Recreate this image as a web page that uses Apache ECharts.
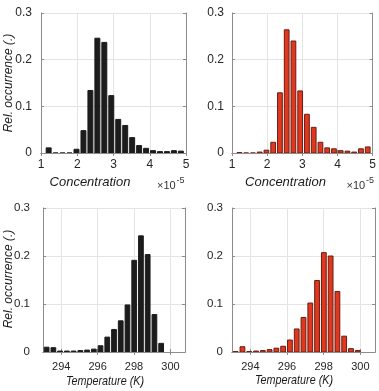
<!DOCTYPE html>
<html>
<head>
<meta charset="utf-8">
<script src="https://cdn.jsdelivr.net/npm/echarts@6/dist/echarts.min.js"></script>
<style>
  html, body { margin: 0; padding: 0; background: #ffffff; }
  #chart { width: 379px; height: 391px; }
</style>
</head>
<body>
<div id="chart"></div>
<script>
// Concentration histograms (values in units of 1e-5), 20 equal bins
const concBinStart = 1.115;
const concBinWidth = 0.192;
const concTicks = [1, 2, 3, 4, 5];
const concBlack = [0.011, 0, 0, 0, 0.008, 0.048, 0.134, 0.246, 0.237, 0.123,
                   0.072, 0.059, 0.033, 0.016, 0.010, 0.005, 0.003, 0.003, 0.005, 0.004];
const concRed   = [0.001, 0, 0, 0.002, 0.006, 0.023, 0.129, 0.264, 0.240, 0.133,
                   0.083, 0.055, 0.023, 0.011, 0.009, 0.005, 0.004, 0.002, 0.009, 0.013];

// Temperature histograms (K)
const tempBinStart = 293.015;
const tempBinWidth = 0.37;
const tempTicks = [294, 296, 298, 300];
const tempBlack = [0.010, 0.009, 0.002, 0.002, 0.002, 0.003, 0.004, 0.006, 0.013,
                   0.031, 0.047, 0.065, 0.098, 0.191, 0.242, 0.203, 0.078, 0.018];
const tempRed   = [0.001, 0.011, 0.001, 0.002, 0.003, 0.005, 0.008, 0.012, 0.025,
                   0.048, 0.072, 0.102, 0.149, 0.207, 0.200, 0.126, 0.033, 0.007, 0.003];

// Relative occurrence axis
const yTicks = [0, 0.1, 0.2, 0.3];

const FRAME = '#8c8c8c';
const GRIDLINE = '#e4e4e4';
const LABEL = '#262626';

const styles = {
  black: { fill: '#1c1c1c', stroke: '#1c1c1c' },
  red:   { fill: '#e0381f', stroke: '#6a1c12' }
};

function binData(start, width, values) {
  return values.map((v, i) => [start + i * width, start + (i + 1) * width, v]);
}

const panels = [
  { grid: { left: 41, top: 13, width: 145, height: 140 },
    xmin: 1, xmax: 5, ticks: concTicks, fs: 12, xMargin: 6, yMargin: 9,
    data: binData(concBinStart, concBinWidth, concBlack), color: 'black' },
  { grid: { left: 232, top: 13, width: 142, height: 140 },
    xmin: 1, xmax: 5, ticks: concTicks, fs: 12, xMargin: 6, yMargin: 8,
    data: binData(concBinStart, concBinWidth, concRed), color: 'red' },
  { grid: { left: 43, top: 208, width: 142, height: 144 },
    xmin: 293, xmax: 300.8, ticks: tempTicks, fs: 11, xMargin: 9, yMargin: 13,
    data: binData(tempBinStart, tempBinWidth, tempBlack), color: 'black' },
  { grid: { left: 232, top: 208, width: 143, height: 144 },
    xmin: 293, xmax: 300.8, ticks: tempTicks, fs: 11, xMargin: 9, yMargin: 9,
    data: binData(tempBinStart, tempBinWidth, tempRed), color: 'red' }
];

const grids = [], xAxes = [], yAxes = [], series = [];

panels.forEach((p, i) => {
  grids.push(Object.assign({ containLabel: false }, p.grid));
  const tickStyle = { show: true, inside: true, length: 3, lineStyle: { color: FRAME } };
  const lineStyle = { show: true, lineStyle: { color: FRAME, width: 1 } };
  const xBase = {
    gridIndex: i, type: 'value', min: p.xmin, max: p.xmax,
    axisLine: lineStyle, axisTick: Object.assign({ customValues: p.ticks }, tickStyle)
  };
  xAxes.push(Object.assign({}, xBase, {
    position: 'bottom',
    axisLabel: { customValues: p.ticks, color: LABEL, fontSize: p.fs,
                 fontFamily: 'Liberation Sans', margin: p.xMargin },
    splitLine: { show: true, lineStyle: { color: GRIDLINE, width: 1 } }
  }));
  xAxes.push(Object.assign({}, xBase, {
    position: 'top', axisLabel: { show: false }, splitLine: { show: false }
  }));
  const yBase = {
    gridIndex: i, type: 'value', min: yTicks[0], max: yTicks[yTicks.length - 1],
    interval: 0.1, axisLine: lineStyle, axisTick: tickStyle
  };
  yAxes.push(Object.assign({}, yBase, {
    position: 'left',
    axisLabel: { color: LABEL, fontSize: p.fs + (i >= 2 ? 0.5 : 0),
                 fontFamily: 'Liberation Sans', margin: p.yMargin,
                 formatter: v => (v === 0 ? '0' : v.toFixed(1)) },
    splitLine: { show: true, lineStyle: { color: GRIDLINE, width: 1 } }
  }));
  yAxes.push(Object.assign({}, yBase, {
    position: 'right', axisLabel: { show: false }, splitLine: { show: false }
  }));

  const st = styles[p.color];
  series.push({
    type: 'custom',
    xAxisIndex: i * 2, yAxisIndex: i * 2,
    clip: true,
    data: p.data,
    renderItem: (params, api) => {
      const top = api.coord([api.value(0), api.value(2)]);
      const base = api.coord([api.value(1), 0]);
      return {
        type: 'rect',
        shape: { x: top[0] + 1, y: top[1], width: base[0] - top[0] - 2, height: base[1] - top[1] },
        style: { fill: st.fill, stroke: st.stroke, lineWidth: 1 }
      };
    }
  });
});

function label(text, x, y, font, opts) {
  return Object.assign({
    type: 'text', x: x, y: y,
    style: { text: text, font: font, fill: '#1a1a1a', align: 'center', verticalAlign: 'middle' }
  }, opts || {});
}

const nameFont = 'italic 13px "Liberation Sans"';
const yNameFont = 'italic 12px "Liberation Sans"';
const graphic = [
  label('Rel. occurrence (.)', 9, 83, yNameFont, { rotation: Math.PI / 2 }),
  label('Rel. occurrence (.)', 9, 279, yNameFont, { rotation: Math.PI / 2 }),
  label('Concentration', 90, 182, nameFont),
  label('Concentration', 285.5, 182, nameFont),
  label('Temperature (K)', 105, 381.5, nameFont, { scaleX: 0.83 }),
  label('Temperature (K)', 294, 380.5, nameFont, { scaleX: 0.83 })
];

// exponent multiplier for the concentration axes
[157, 346.5].forEach(x0 => {
  graphic.push({ type: 'text', x: x0, y: 186,
    style: { text: '×10', font: '11px "Liberation Sans"', fill: '#333333', align: 'left', verticalAlign: 'middle' } });
  graphic.push({ type: 'text', x: x0 + 19.5, y: 180.5,
    style: { text: '-5', font: '9px "Liberation Sans"', fill: '#333333', align: 'left', verticalAlign: 'middle' } });
});

const chart = echarts.init(document.getElementById('chart'), null, { renderer: 'canvas' });
chart.setOption({
  animation: false,
  backgroundColor: '#ffffff',
  grid: grids,
  xAxis: xAxes,
  yAxis: yAxes,
  series: series,
  graphic: graphic
});
</script>
</body>
</html>
